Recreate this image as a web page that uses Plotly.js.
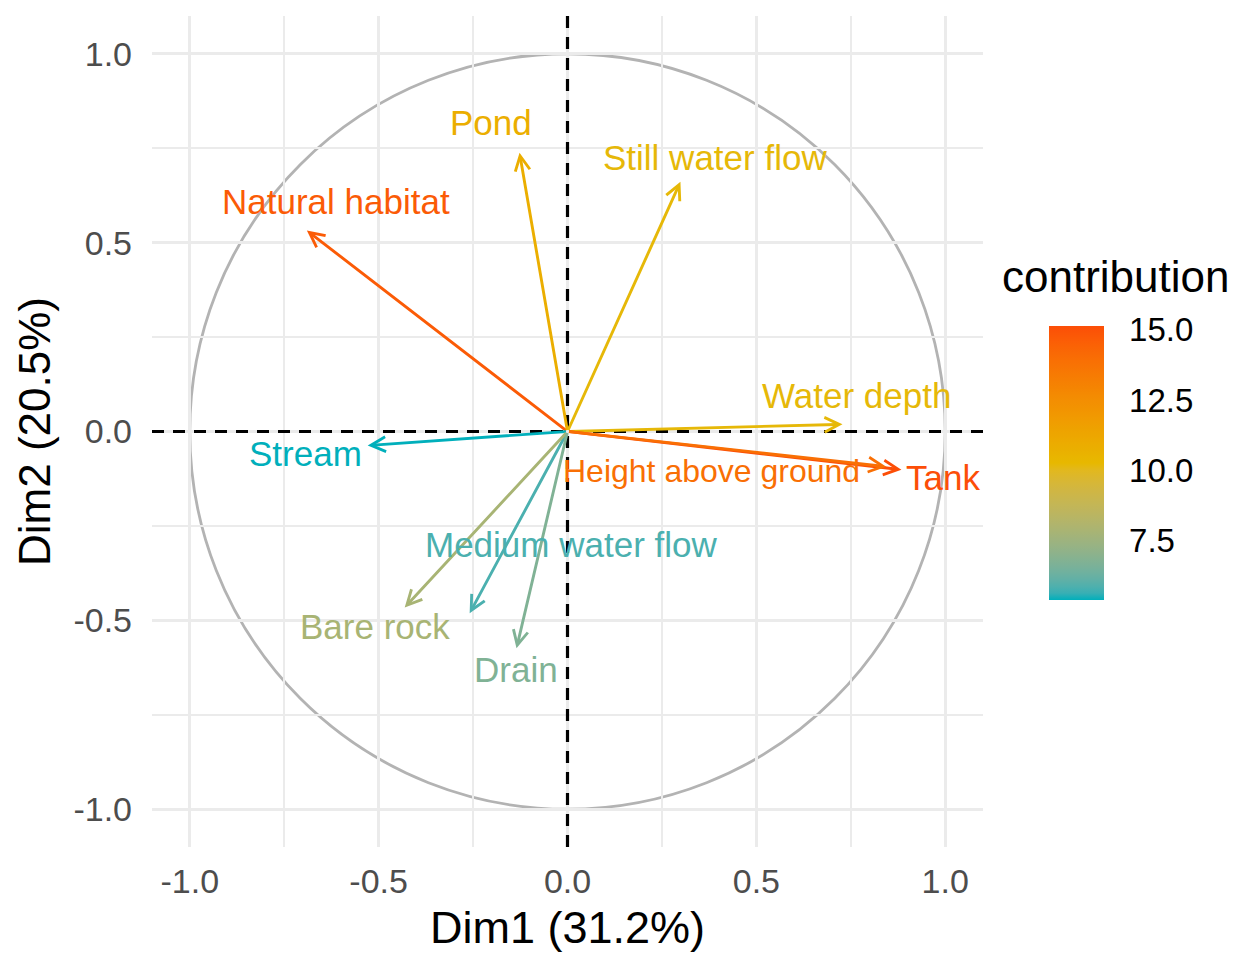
<!DOCTYPE html>
<html>
<head>
<meta charset="utf-8">
<script src="https://cdn.plot.ly/plotly-3.0.1.min.js"></script>
<style>
  html, body { margin: 0; padding: 0; background: #ffffff; }
  #chart { width: 1233px; height: 953px; }
</style>
</head>
<body>
<div id="chart"></div>
<script>
// ---------------- DATA ----------------
const variables = ['Natural habitat', 'Pond', 'Still water flow', 'Water depth', 'Tank',
                   'Height above ground', 'Stream', 'Medium water flow', 'Bare rock', 'Drain'];
const dim1 = [-0.690, -0.127, 0.299, 0.728, 0.884, 0.844, -0.529, -0.259, -0.431, -0.135];
const dim2 = [ 0.532,  0.738, 0.661, 0.019, -0.101, -0.093, -0.037, -0.481, -0.466, -0.574];
const contrib = [14.7, 10.8, 10.2, 10.2, 15.14, 13.9, 5.36, 5.8, 7.8, 6.7];

const axisTickVals = [-1, -0.5, 0, 0.5, 1];
const axisTickText = ['-1.0', '-0.5', '0.0', '0.5', '1.0'];
const colorbarTickVals = [7.5, 10, 12.5, 15];
const colorbarTickText = ['7.5', '10.0', '12.5', '15.0'];
const xTitle = 'Dim1 (31.2%)';
const yTitle = 'Dim2 (20.5%)';
const legendTitle = 'contribution';

// ---------------- STYLE ----------------
const FONT = 'Liberation Sans, Arial, Helvetica, sans-serif';
const gradientColors = ['#00AFBB', '#E7B800', '#FC4E07'];
// label placement relative to arrow tip, in screen pixels (dx right, dy down)
const labelOffsets = {
  'Natural habitat': [29, -29],
  'Pond': [-29, -30],
  'Still water flow': [35, -24],
  'Water depth': [14, -29],
  'Tank': [42, 8],
  'Height above ground': [-175, 4],
  'Stream': [-62, 8],
  'Medium water flow': [101, -69],
  'Bare rock': [-30, 19],
  'Drain': [-1, 21]
};
const labelSize = 35;
const labelSizeOverride = { 'Height above ground': 32 };

// ---------------- colour helpers (Lab interpolation like ggplot2) ----------------
function hexToRgb(h) {
  h = h.replace('#', '');
  return [parseInt(h.slice(0, 2), 16), parseInt(h.slice(2, 4), 16), parseInt(h.slice(4, 6), 16)];
}
function srgbToLin(c) { c /= 255; return c <= 0.04045 ? c / 12.92 : Math.pow((c + 0.055) / 1.055, 2.4); }
function linToSrgb(c) { c = c <= 0.0031308 ? 12.92 * c : 1.055 * Math.pow(c, 1 / 2.4) - 0.055; return Math.max(0, Math.min(255, Math.round(c * 255))); }
const WX = 0.95047, WY = 1.0, WZ = 1.08883;
function rgbToLab(rgb) {
  const [r, g, b] = rgb.map(srgbToLin);
  const X = r * 0.4124 + g * 0.3576 + b * 0.1805;
  const Y = r * 0.2126 + g * 0.7152 + b * 0.0722;
  const Z = r * 0.0193 + g * 0.1192 + b * 0.9505;
  const f = t => t > 0.008856 ? Math.cbrt(t) : 7.787 * t + 16 / 116;
  const fx = f(X / WX), fy = f(Y / WY), fz = f(Z / WZ);
  return [116 * fy - 16, 500 * (fx - fy), 200 * (fy - fz)];
}
function labToRgb(lab) {
  const fy = (lab[0] + 16) / 116, fx = fy + lab[1] / 500, fz = fy - lab[2] / 200;
  const fi = t => t > 0.206893 ? t * t * t : (t - 16 / 116) / 7.787;
  const X = fi(fx) * WX, Y = fi(fy) * WY, Z = fi(fz) * WZ;
  const r = X * 3.2406 + Y * -1.5372 + Z * -0.4986;
  const g = X * -0.9689 + Y * 1.8758 + Z * 0.0415;
  const b = X * 0.0557 + Y * -0.2040 + Z * 1.0570;
  return [linToSrgb(r), linToSrgb(g), linToSrgb(b)];
}
const gradLab = gradientColors.map(c => rgbToLab(hexToRgb(c)));
function colorAtFrac(t) {
  t = Math.max(0, Math.min(1, t));
  const n = gradLab.length - 1;
  const seg = Math.min(n - 1, Math.floor(t * n));
  const lt = t * n - seg;
  const a = gradLab[seg], b = gradLab[seg + 1];
  const rgb = labToRgb([a[0] + (b[0] - a[0]) * lt, a[1] + (b[1] - a[1]) * lt, a[2] + (b[2] - a[2]) * lt]);
  return 'rgb(' + rgb.join(',') + ')';
}
const cmin = Math.min(...contrib), cmax = Math.max(...contrib);
const colorOf = v => colorAtFrac((v - cmin) / (cmax - cmin));
const colorscale = [];
for (let i = 0; i <= 40; i++) colorscale.push([i / 40, colorAtFrac(i / 40)]);

// ---------------- geometry of the page ----------------
const M = { l: 152, r: 250, t: 16, b: 106 };
const W = 1233, H = 953;
const plotW = W - M.l - M.r, plotH = H - M.t - M.b;
const cbLeftPx = 1049, cbThick = 55, cbTopPx = 326, cbLen = 274;
const cbX = (cbLeftPx - M.l) / plotW;
const cbYmid = (H - M.b - (cbTopPx + cbLen / 2)) / plotH;

// ---------------- traces ----------------
const traces = [{
  type: 'scatter',
  mode: 'markers',
  x: dim1,
  y: dim2,
  hoverinfo: 'skip',
  showlegend: false,
  marker: {
    size: 4,
    opacity: 0,
    color: contrib,
    colorscale: colorscale,
    cmin: cmin,
    cmax: cmax,
    showscale: true,
    colorbar: {
      x: cbX, xanchor: 'left', xpad: 0,
      y: cbYmid, yanchor: 'middle', ypad: 0,
      len: cbLen, lenmode: 'pixels',
      thickness: cbThick, thicknessmode: 'pixels',
      outlinewidth: 0,
      tickmode: 'array',
      tickvals: colorbarTickVals,
      ticktext: colorbarTickText,
      ticks: 'outside', ticklen: 19, tickcolor: 'rgba(0,0,0,0)',
      tickfont: { family: FONT, size: 33, color: '#000000' },
      title: { text: '' }
    }
  }
}];

// ---------------- annotations: arrows + labels ----------------
const annotations = [];
variables.forEach((name, i) => {
  const col = colorOf(contrib[i]);
  annotations.push({
    x: dim1[i], y: dim2[i], xref: 'x', yref: 'y',
    ax: 0, ay: 0, axref: 'x', ayref: 'y',
    text: '', showarrow: true,
    arrowhead: 5, arrowsize: 1.0, arrowwidth: 2.9, arrowcolor: col,
    standoff: 0, startstandoff: 0
  });
});
variables.forEach((name, i) => {
  const col = colorOf(contrib[i]);
  const off = labelOffsets[name];
  annotations.push({
    x: dim1[i], y: dim2[i], xref: 'x', yref: 'y',
    text: name, showarrow: false,
    xanchor: 'center', yanchor: 'middle',
    xshift: off[0], yshift: -off[1],
    font: { family: FONT, size: labelSizeOverride[name] || labelSize, color: col }
  });
});
annotations.push({
  xref: 'paper', yref: 'paper',
  x: (1000 - M.l) / plotW, y: (H - M.b - 276) / plotH,
  xanchor: 'left', yanchor: 'middle',
  text: legendTitle, showarrow: false,
  font: { family: FONT, size: 44, color: '#000000' }
});

// ---------------- shapes ----------------
const shapes = [
  { type: 'circle', xref: 'x', yref: 'y', x0: -1, x1: 1, y0: -1, y1: 1,
    line: { color: '#B3B3B3', width: 2.8 }, layer: 'below' },
  { type: 'line', xref: 'paper', yref: 'y', x0: 0, x1: 1, y0: 0, y1: 0,
    line: { color: '#000000', width: 3.2, dash: '12px,9px' }, layer: 'above' },
  { type: 'line', xref: 'x', yref: 'paper', x0: 0, x1: 0, y0: 0, y1: 1,
    line: { color: '#000000', width: 3.2, dash: '12px,9px' }, layer: 'above' }
];
// white break marks inside the colour bar (both sides, ggplot style)
const cbBottomPaper = cbYmid - (cbLen / 2) / plotH;
const cbLenPaper = cbLen / plotH;
const tickLenPaper = 11 / plotW;
const cbRightPaper = cbX + cbThick / plotW;
colorbarTickVals.forEach(v => {
  const yp = cbBottomPaper + (v - cmin) / (cmax - cmin) * cbLenPaper;
  shapes.push({ type: 'line', xref: 'paper', yref: 'paper', x0: cbX, x1: cbX + tickLenPaper, y0: yp, y1: yp,
    line: { color: '#ffffff', width: 1.6 }, layer: 'above' });
  shapes.push({ type: 'line', xref: 'paper', yref: 'paper', x0: cbRightPaper - tickLenPaper, x1: cbRightPaper, y0: yp, y1: yp,
    line: { color: '#ffffff', width: 1.6 }, layer: 'above' });
});

// ---------------- layout ----------------
const axisCommon = {
  range: [-1.1, 1.1],
  tickmode: 'array',
  tickvals: axisTickVals,
  ticktext: axisTickText,
  ticks: '',
  showline: false,
  zeroline: false,
  showgrid: true,
  gridcolor: '#EBEBEB',
  gridwidth: 3,
  minor: { tickmode: 'array', tickvals: [-0.75, -0.25, 0.25, 0.75], showgrid: true, gridcolor: '#EBEBEB', gridwidth: 2, ticks: '' },
  tickfont: { family: FONT, size: 34, color: '#4D4D4D' },
  automargin: false,
  fixedrange: true
};

const layout = {
  width: W, height: H,
  margin: M,
  paper_bgcolor: '#ffffff',
  plot_bgcolor: '#ffffff',
  showlegend: false,
  xaxis: Object.assign({}, axisCommon, {
    ticklabelstandoff: 11,
    title: { text: xTitle, font: { family: FONT, size: 45, color: '#000000' }, standoff: 12 }
  }),
  yaxis: Object.assign({}, axisCommon, {
    ticklabelstandoff: 19,
    title: { text: yTitle, font: { family: FONT, size: 44, color: '#000000' }, standoff: 9 }
  }),
  shapes: shapes,
  annotations: annotations
};

Plotly.newPlot('chart', traces, layout, { displayModeBar: false, staticPlot: true });
</script>
</body>
</html>
